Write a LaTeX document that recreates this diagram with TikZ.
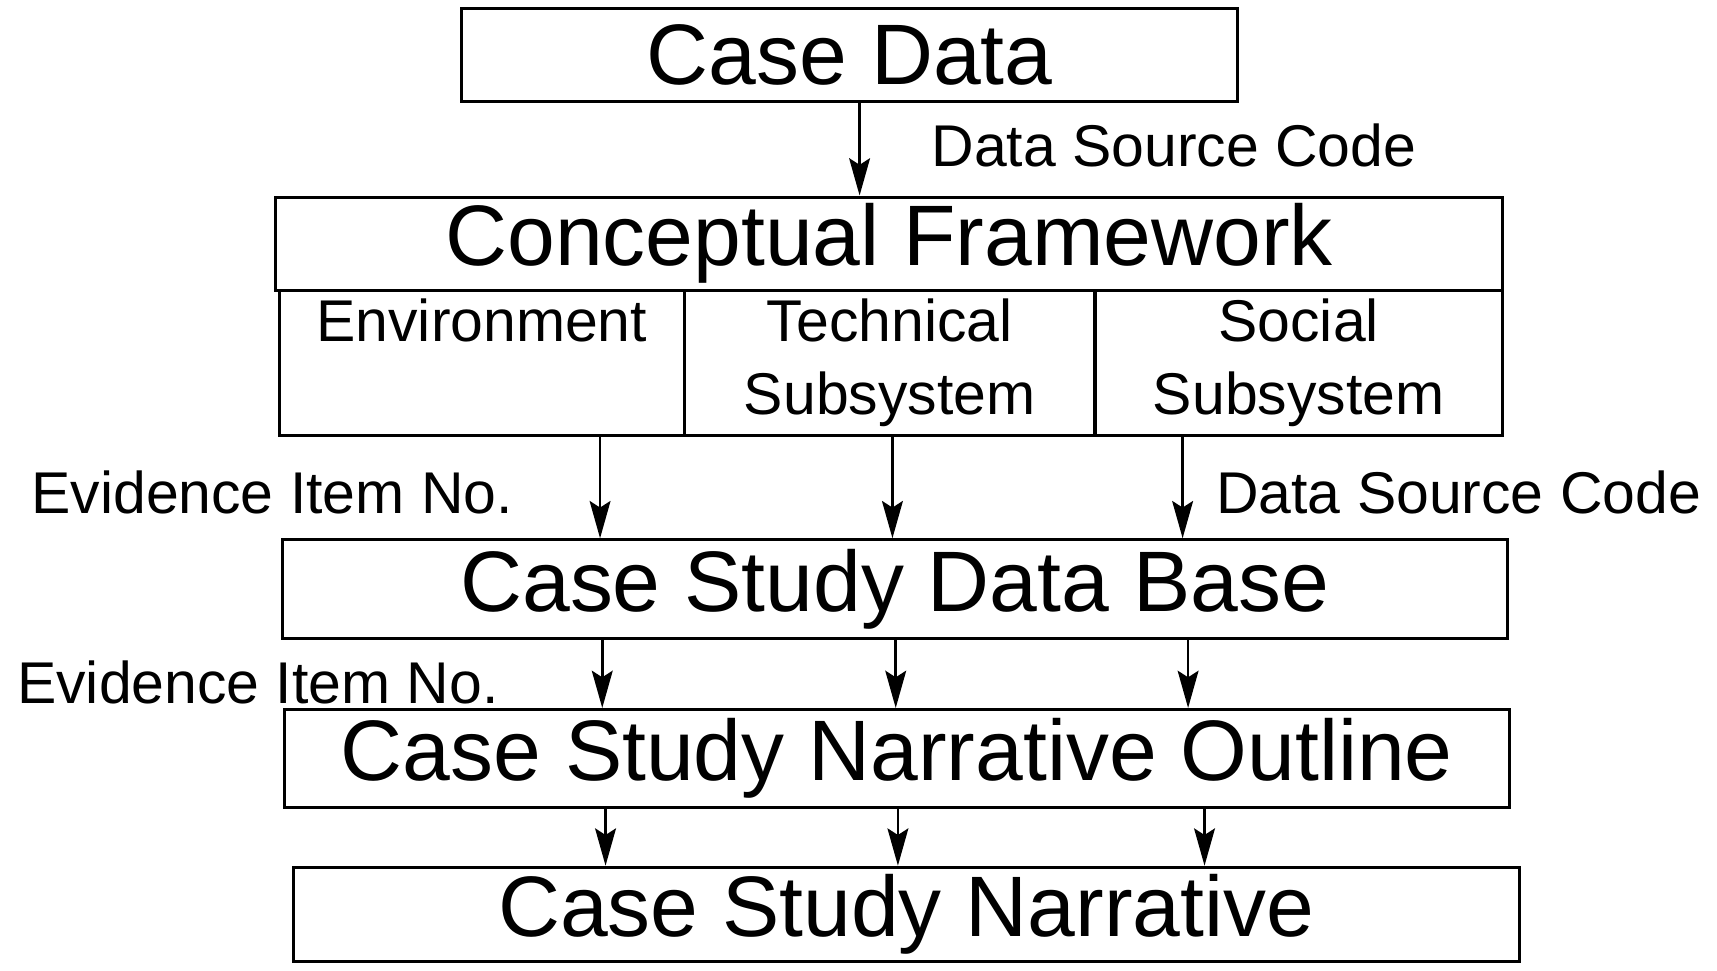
\documentclass[tikz,border=0pt]{standalone}
\usepackage{fontspec}
\setmainfont{Liberation Sans}
\usetikzlibrary{arrows.meta}
\tikzset{
  box/.style={draw,line width=.8pt,inner sep=0pt,font=\fontsize{22.3}{26}\selectfont},
  sub/.style={draw,line width=.8pt,inner sep=0pt,align=center,font=\fontsize{15.3}{19}\selectfont},
  lbl/.style={inner sep=0pt,anchor=west,font=\fontsize{15.3}{19}\selectfont},
  arr/.style={line width=.7pt,-{Stealth[length=3.4mm,width=1.9mm,inset=.6mm]}}
}
\begin{document}
\begin{tikzpicture}[x=.01cm,y=-.01cm]
\useasboundingbox (0,0) rectangle (1568,886);
\node[box,minimum width=7.08cm,minimum height=.85cm] (casedata) at (776,50.5) {Case Data};
\node[box,minimum width=11.2cm,minimum height=.85cm] (concept) at (812,222.5) {Conceptual Framework};
\node[sub,minimum width=3.7cm,minimum height=1.33cm] (env) at (440,331.5) {Environment\\\phantom{Subsystem}};
\node[sub,minimum width=3.75cm,minimum height=1.33cm] (tech) at (812.5,331.5) {Technical\\Subsystem};
\node[sub,minimum width=3.72cm,minimum height=1.33cm] (soc) at (1186,331.5) {Social\\Subsystem};
\node[box,minimum width=11.18cm,minimum height=.9cm] (base) at (817,538) {Case Study Data Base};
\node[box,minimum width=11.18cm,minimum height=.89cm] (outline) at (819,692.5) {Case Study Narrative Outline};
\node[box,minimum width=11.19cm,minimum height=.86cm] (narr) at (827.5,835) {Case Study Narrative};
\draw[arr] (785,0 |- casedata.south) -- (785,0 |- concept.north);
\foreach \s/\x in {env/548,tech/815,soc/1080}
  \draw[arr] (\x,0 |- \s.south) -- (\x,0 |- base.north);
\foreach \x in {550,818,1085}
  \draw[arr] (\x,0 |- base.south) -- (\x,0 |- outline.north);
\foreach \x in {553,820,1100}
  \draw[arr] (\x,0 |- outline.south) -- (\x,0 |- narr.north);
\node[lbl] (dsctop) at (850,133) {Data Source Code};
\node[lbl] (evid1) at (28,450) {Evidence Item No.};
\node[lbl] (dscmid) at (1110,450) {Data Source Code};
\node[lbl] (evid2) at (15,623) {Evidence Item No.};
\end{tikzpicture}
\end{document}
